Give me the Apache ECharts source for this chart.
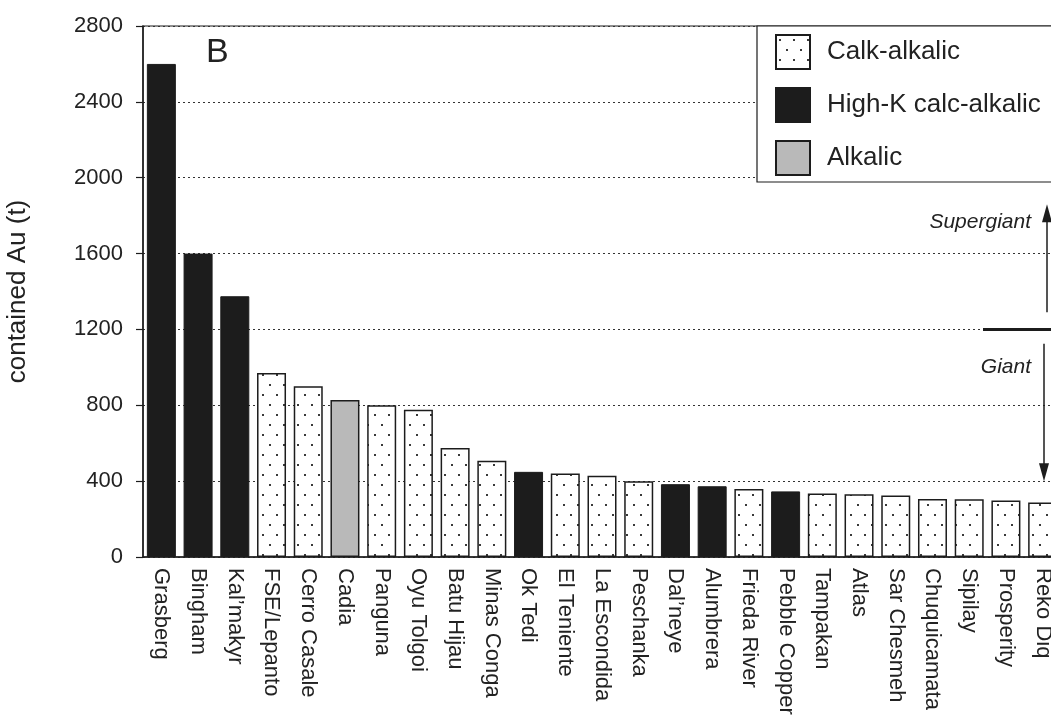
<!DOCTYPE html>
<html><head><meta charset="utf-8">
<script src="https://cdn.jsdelivr.net/npm/echarts@6/dist/echarts.min.js"></script>
<style>html,body{margin:0;padding:0;background:#fff}#c{width:1051px;height:726px}</style>
</head><body><div id="c"></div>
<script>
// ---- data ----
const categories = ['Grasberg','Bingham','Kal\u2019makyr','FSE/Lepanto','Cerro Casale','Cadia','Panguna','Oyu Tolgoi','Batu Hijau','Minas Conga','Ok Tedi','El Teniente','La Escondida','Peschanka','Dal\u2019neye','Alumbrera','Frieda River','Pebble Copper','Tampakan','Atlas','Sar Chesmeh','Chuquicamata','Sipilay','Prosperity','Reko Diq'];
const values = [2600,1600,1375,970,900,828,800,777,575,507,449,440,429,400,384,373,359,346,335,331,324,306,305,298,287];
const classes = ['H','H','H','C','C','A','C','C','C','C','H','C','C','C','H','H','C','H','C','C','C','C','C','C','C'];
const classKeys = ['C','H','A'];
const classNames = ['Calk-alkalic','High-K calc-alkalic','Alkalic'];
const yMin = 0, yMax = 2800, yInterval = 400;
const boundaryValue = 1200;           // Giant / Supergiant boundary
const supergiantArrow = [1290, 1860]; // from, tip
const giantArrow = [1125, 400];       // from, tip
const supergiantLabelValue = 1765;
const giantLabelValue = 1000;

const FONT = 'Liberation Sans, Arial, Helvetica, sans-serif';
const INK = '#1c1c1c';

function dotPattern(){
  const c = document.createElement('canvas'); c.width = 14; c.height = 20;
  const g = c.getContext('2d');
  g.fillStyle = '#ffffff'; g.fillRect(0,0,14,20);
  g.fillStyle = '#3a3a3a';
  g.fillRect(3,4,2,2); g.fillRect(10,14,2,2);
  return c;
}
const styles = {
  C: {color: {image: dotPattern(), repeat: 'repeat'}, borderColor: INK, borderWidth: 1.5},
  H: {color: INK, borderColor: INK, borderWidth: 1},
  A: {color: '#b9b9b9', borderColor: INK, borderWidth: 1.5}
};

const series = classKeys.map((k, si) => ({
  name: classNames[si],
  type: 'bar',
  barWidth: 29,
  barGap: '-100%',
  itemStyle: styles[k],
  data: values.map((v, i) => classes[i] === k ? v : '-')
}));

const chart = echarts.init(document.getElementById('c'), null, {renderer: 'canvas'});
chart.setOption({
  animation: false,
  backgroundColor: '#ffffff',
  textStyle: {fontFamily: FONT},
  grid: {left: 143, width: 918, top: 26, bottom: 169, show: true, borderColor: INK, borderWidth: 1.2, containLabel: false, outerBoundsMode: 'none'},
  legend: {
    orient: 'vertical', left: 757, top: 26,
    itemWidth: 34, itemHeight: 34, itemGap: 17,
    icon: 'rect',
    backgroundColor: '#ffffff', borderColor: INK, borderWidth: 1.2,
    padding: [8, 30, 6, 18],
    textStyle: {fontSize: 26, color: '#222', fontFamily: FONT, padding: [0, 0, 0, 12]},
    data: classNames,
    selectedMode: false
  },
  xAxis: {
    type: 'category', data: categories,
    axisLine: {lineStyle: {color: INK, width: 1.5}},
    axisTick: {length: 6, lineStyle: {color: INK, width: 1.2}},
    axisLabel: {rotate: -90, interval: 0, margin: 11, fontSize: 22, color: '#222', fontFamily: FONT},
    splitLine: {show: false}
  },
  yAxis: {
    type: 'value', min: yMin, max: yMax, interval: yInterval,
    name: 'contained Au (t)', nameLocation: 'middle', nameRotate: 90, nameGap: 112,
    nameTextStyle: {fontSize: 26, color: '#222', fontFamily: FONT},
    axisLine: {show: true, lineStyle: {color: INK, width: 1.5}},
    axisTick: {show: true, length: 7, lineStyle: {color: INK, width: 1.2}},
    axisLabel: {margin: 20, fontSize: 22, color: '#222', fontFamily: FONT, formatter: v => String(v)},
    splitLine: {show: true, lineStyle: {color: '#333', width: 1.2, type: [2, 3]}}
  },
  series: series
});

const yp = v => chart.convertToPixel({yAxisIndex: 0}, v);
const yB = yp(boundaryValue);
const upFrom = yp(supergiantArrow[0]), upTip = yp(supergiantArrow[1]);
const dnFrom = yp(giantArrow[0]), dnTip = yp(giantArrow[1]);
const ax = 1047, bx = 1044;
chart.setOption({
  graphic: [
    {type: 'text', left: 206, top: 36, style: {text: 'B', fontSize: 34, fill: '#222', fontFamily: FONT}},
    {type: 'line', shape: {x1: 983, y1: yB, x2: 1060, y2: yB}, style: {stroke: INK, lineWidth: 3}},
    {type: 'line', shape: {x1: ax, y1: upFrom, x2: ax, y2: upTip + 14}, style: {stroke: INK, lineWidth: 1.5}},
    {type: 'polygon', shape: {points: [[ax, upTip], [ax - 5, upTip + 18], [ax + 5, upTip + 18]]}, style: {fill: INK}},
    {type: 'line', shape: {x1: bx, y1: dnFrom, x2: bx, y2: dnTip - 14}, style: {stroke: INK, lineWidth: 1.5}},
    {type: 'polygon', shape: {points: [[bx, dnTip], [bx - 5, dnTip - 18], [bx + 5, dnTip - 18]]}, style: {fill: INK}},
    {type: 'text', x: 1031, y: yp(supergiantLabelValue), style: {text: 'Supergiant', fontSize: 21, fontStyle: 'italic', fill: '#222', fontFamily: FONT, align: 'right', verticalAlign: 'middle'}},
    {type: 'text', x: 1031, y: yp(giantLabelValue), style: {text: 'Giant', fontSize: 21, fontStyle: 'italic', fill: '#222', fontFamily: FONT, align: 'right', verticalAlign: 'middle'}}
  ]
});
</script></body></html>
